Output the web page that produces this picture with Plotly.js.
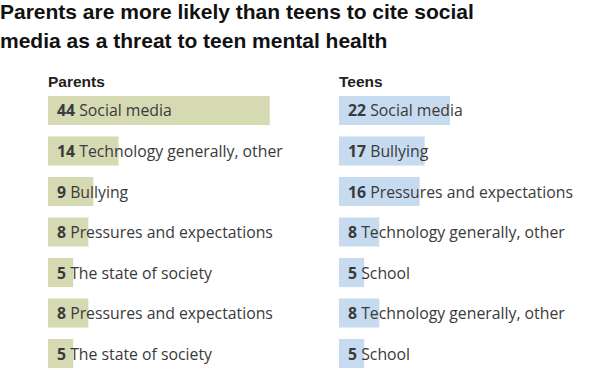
<!DOCTYPE html>
<html>
<head>
<meta charset="utf-8">
<script src="https://cdn.plot.ly/plotly-3.0.1.min.js"></script>
<style>html,body{margin:0;padding:0;background:#fff;}#chart{width:600px;height:370px;}</style>
</head>
<body>
<div id="chart"></div>
<script>
const titleLines = ["Parents are more likely than teens to cite social", "media as a threat to teen mental health"];
const parentsLabel = "Parents";
const teensLabel = "Teens";
const parentsCategories = ["Social media", "Technology generally, other", "Bullying", "Pressures and expectations", "The state of society", "Pressures and expectations", "The state of society"];
const parentsValues = [44, 14, 9, 8, 5, 8, 5];
const teensCategories = ["Social media", "Bullying", "Pressures and expectations", "Technology generally, other", "School", "Technology generally, other", "School"];
const teensValues = [22, 17, 16, 8, 5, 8, 5];

const rows = parentsValues.map((_, i) => i);
const greenColor = "#d6dab3";
const blueColor = "#c6daf0";

const traces = [
  {type: "bar", orientation: "h", x: parentsValues, y: rows, width: 0.72,
   marker: {color: greenColor}, xaxis: "x", yaxis: "y", hoverinfo: "none"},
  {type: "bar", orientation: "h", x: teensValues, y: rows, width: 0.72,
   marker: {color: blueColor}, xaxis: "x2", yaxis: "y", hoverinfo: "none"}
];

const labelFont = {family: "Open Sans, Liberation Sans, Arial, sans-serif", size: 15.8, color: "#3a3a3a"};
const annotations = [];
parentsValues.forEach((v, i) => {
  annotations.push({xref: "x", yref: "y", x: 0, y: rows[i], xanchor: "left", yanchor: "middle",
    xshift: 7, showarrow: false, font: labelFont,
    text: "<b>" + v + "</b> " + parentsCategories[i]});
});
teensValues.forEach((v, i) => {
  annotations.push({xref: "x2", yref: "y", x: 0, y: rows[i], xanchor: "left", yanchor: "middle",
    xshift: 7, showarrow: false, font: labelFont,
    text: "<b>" + v + "</b> " + teensCategories[i]});
});
const headFont = {family: "Liberation Sans, Arial, sans-serif", size: 15.5, color: "#222"};
annotations.push({xref: "x", yref: "paper", x: 0, y: 1.0286, xanchor: "left", yanchor: "middle",
  xshift: -2, showarrow: false, font: headFont, text: "<b>" + parentsLabel + "</b>"});
annotations.push({xref: "x2", yref: "paper", x: 0, y: 1.0286, xanchor: "left", yanchor: "middle",
  xshift: -2, showarrow: false, font: headFont, text: "<b>" + teensLabel + "</b>"});
const titleFont = {family: "Liberation Sans, Arial, sans-serif", size: 21, color: "#111"};
const titleY = [1.282, 1.175];
titleLines.forEach((t, i) => {
  annotations.push({xref: "paper", yref: "paper", x: 0, y: titleY[i], xanchor: "left", yanchor: "middle",
    xshift: -2, showarrow: false, font: titleFont, text: "<b>" + t + "</b>"});
});

const layout = {
  width: 600, height: 370,
  margin: {l: 0, r: 0, t: 90, b: 0},
  paper_bgcolor: "#fff", plot_bgcolor: "#fff",
  showlegend: false,
  xaxis: {domain: [0.08, 0.5], range: [0, 50], showgrid: false, zeroline: false, showticklabels: false, fixedrange: true},
  xaxis2: {domain: [0.565, 0.985], range: [0, 50], showgrid: false, zeroline: false, showticklabels: false, fixedrange: true},
  yaxis: {range: [6.407, -0.506], showgrid: false, zeroline: false, showticklabels: false, fixedrange: true},
  annotations: annotations
};

Plotly.newPlot("chart", traces, layout, {displayModeBar: false, staticPlot: true});
</script>
</body>
</html>
